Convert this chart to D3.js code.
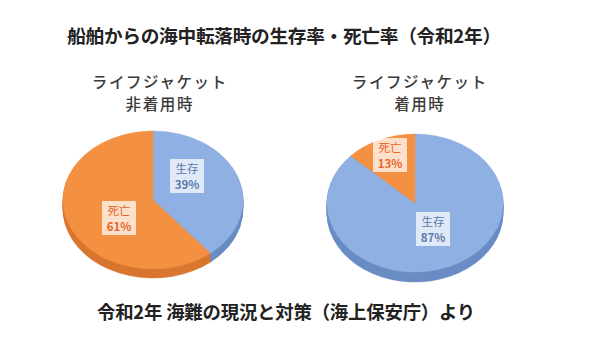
<!DOCTYPE html>
<html><head><meta charset="utf-8">
<script src="https://cdn.jsdelivr.net/npm/d3@7"></script>
<style>body{margin:0;background:#fff}svg{display:block}</style>
</head><body><svg id="c" width="600" height="357"></svg>
<script>
const title = "船舶からの海中転落時の生存率・死亡率（令和2年）";
const source = "令和2年 海難の現況と対策（海上保安庁）より";
const categories = ["生存", "死亡"];
const chartTitles = [["ライフジャケット", "非着用時"], ["ライフジャケット", "着用時"]];
const valuesNoJacket = [39, 61];
const valuesJacket = [87, 13];

const font = "'Noto Sans CJK JP','Noto Sans',sans-serif";
const topColor = d3.scaleOrdinal().domain(categories).range(["#8fb0e2", "#f39042"]);
const sideColor = d3.scaleOrdinal().domain(categories).range(["#6a8cc4", "#d8762f"]);
const textColor = d3.scaleOrdinal().domain(categories).range(["#5d78aa", "#e5652a"]);

const svg = d3.select("#c");
svg.append("text").attr("x", 284).attr("y", 43).attr("text-anchor", "middle")
  .attr("font-family", font).attr("font-weight", 700).attr("font-size", 18.7).attr("fill", "#222")
  .attr("letter-spacing", -0.3)
  .text(title);
svg.append("text").attr("x", 286).attr("y", 319).attr("text-anchor", "middle")
  .attr("font-family", font).attr("font-weight", 700).attr("font-size", 18.4).attr("fill", "#222")
  .attr("letter-spacing", -0.2)
  .text(source);

const pies = [
  {vals: valuesNoJacket, titles: chartTitles[0], cx: 153, cy: 200, rx: 90, ry: 69, depth: 9, tx: 159,
   labelPos: [[187, 176], [119, 218]]},
  {vals: valuesJacket, titles: chartTitles[1], cx: 415, cy: 203, rx: 88, ry: 69, depth: 10, tx: 419,
   labelPos: [[433, 229], [390, 155]]}
];

const pieGen = d3.pie().sort(null).value(d => d.v);
pies.forEach(p => {
  const data = categories.map((c, i) => ({c, v: p.vals[i]}));
  const arcs = pieGen(data);
  const arc = d3.arc().innerRadius(0).outerRadius(p.rx);
  const k = p.ry / p.rx;
  p.titles.forEach((t, i) => {
    svg.append("text").attr("x", p.tx + 0.8).attr("y", 88 + i * 21.8).attr("text-anchor", "middle")
      .attr("font-family", font).attr("font-weight", 500).attr("font-size", 15.5).attr("fill", "#3a3a3a")
      .attr("letter-spacing", 1.6)
      .text(t);
  });
  for (let dd = p.depth; dd >= 1; dd--) {
    const g = svg.append("g").attr("transform", `translate(${p.cx},${p.cy + dd}) scale(1,${k})`);
    g.selectAll("path").data(arcs).join("path").attr("d", arc)
      .attr("fill", d => sideColor(d.data.c)).attr("stroke", d => sideColor(d.data.c)).attr("stroke-width", 0.6);
  }
  const g = svg.append("g").attr("transform", `translate(${p.cx},${p.cy}) scale(1,${k})`);
  g.selectAll("path").data(arcs).join("path").attr("d", arc)
    .attr("fill", d => topColor(d.data.c)).attr("stroke", d => topColor(d.data.c)).attr("stroke-width", 0.5);
  arcs.forEach((a, i) => {
    const [lx, ly] = p.labelPos[i];
    svg.append("rect").attr("x", lx - 17).attr("y", ly - 17).attr("width", 34).attr("height", 34)
      .attr("fill", "#fff").attr("opacity", 0.72);
    svg.append("text").attr("x", lx).attr("y", ly - 3).attr("text-anchor", "middle")
      .attr("font-family", font).attr("font-size", 11.5).attr("fill", textColor(a.data.c))
      .text(a.data.c);
    svg.append("text").attr("x", lx).attr("y", ly + 13).attr("text-anchor", "middle")
      .attr("font-family", font).attr("font-size", 11.5).attr("font-weight", 700).attr("fill", textColor(a.data.c))
      .text(a.data.v + "%");
  });
});
</script></body></html>
